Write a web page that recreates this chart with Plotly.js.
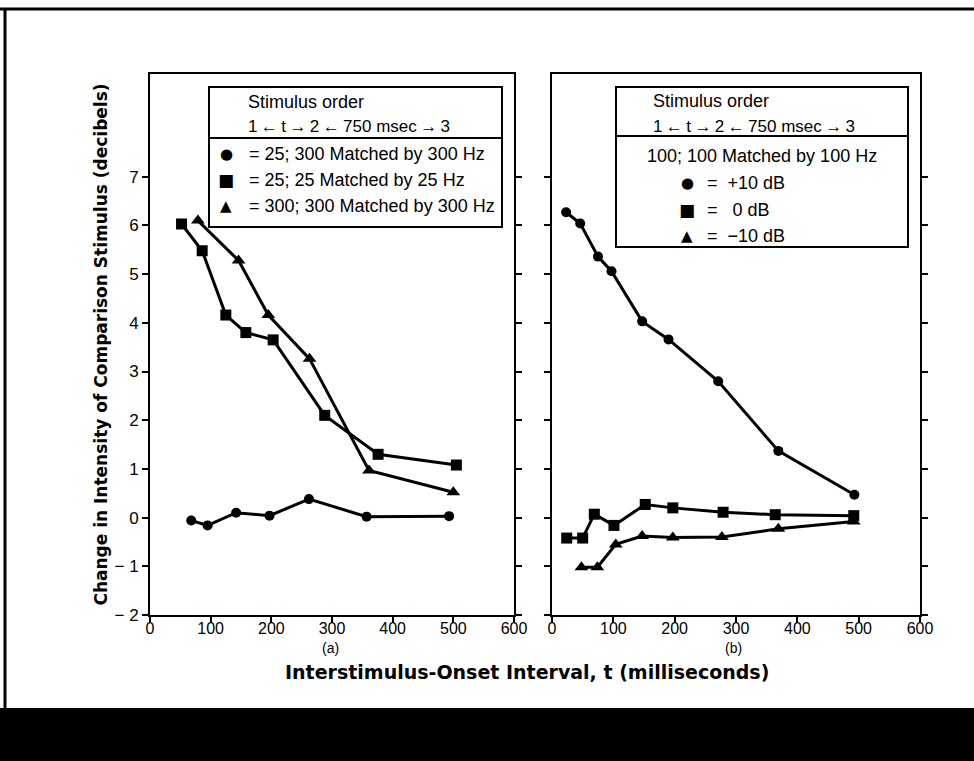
<!DOCTYPE html>
<html>
<head>
<meta charset="utf-8">
<script src="https://cdn.plot.ly/plotly-3.0.1.min.js"></script>
<style>html,body{margin:0;padding:0;background:#fff;}#chart{width:974px;height:761px;}</style>
</head>
<body>
<div id="chart"></div>
<script>
// ---- Data: panel (a) ----
const xA_circle = [68, 95, 142, 197, 262, 357, 493];
const yA_circle = [-0.06, -0.16, 0.1, 0.04, 0.38, 0.02, 0.03];
const xA_square = [52, 86, 125, 158, 203, 288, 376, 505];
const yA_square = [6.03, 5.48, 4.16, 3.8, 3.65, 2.1, 1.3, 1.08];
const xA_triangle = [79, 146, 195, 263, 361, 500];
const yA_triangle = [6.1, 5.28, 4.16, 3.26, 0.97, 0.52];

// ---- Data: panel (b) ----
const xB_circle = [23, 46, 75, 97, 147, 190, 271, 369, 493];
const yB_circle = [6.27, 6.04, 5.36, 5.06, 4.03, 3.66, 2.8, 1.37, 0.47];
const xB_square = [24, 50, 69, 101, 152, 197, 279, 364, 492];
const yB_square = [-0.42, -0.42, 0.07, -0.16, 0.27, 0.2, 0.11, 0.06, 0.04];
const xB_triangle = [48, 74, 104, 147, 197, 277, 369, 492];
const yB_triangle = [-1.02, -1.02, -0.55, -0.38, -0.41, -0.4, -0.23, -0.08];

// ---- Tick labels ----
const xTickVals = [0, 100, 200, 300, 400, 500, 600];
const xTickText = ['0', '100', '200', '300', '400', '500', '600'];
const yTickVals = [-2, -1, 0, 1, 2, 3, 4, 5, 6, 7];
const yTickText = ['\u2212 2', '\u2212 1', '0', '1', '2', '3', '4', '5', '6', '7'];

const legendA = ['= 25; 300 Matched by 300 Hz', '= 25; 25 Matched by 25 Hz', '= 300; 300 Matched by 300 Hz'];
const legendB = ['=  +10 dB', '=   0 dB', '=  \u221210 dB'];

const FONT = 'Liberation Sans, Arial, Helvetica, sans-serif';
const BOLD = 'DejaVu Sans, sans-serif';
const W = 974, H = 761;
const px = v => v / W;
const py = v => 1 - v / H;

function series(x, y, symbol, size, xa, ya) {
  return {
    x: x, y: y, xaxis: xa, yaxis: ya, type: 'scatter', mode: 'lines+markers',
    line: {color: '#000', width: 3},
    marker: {symbol: symbol, size: size, color: '#000'},
    showlegend: false, hoverinfo: 'skip'
  };
}

const traces = [
  series(xA_circle, yA_circle, 'circle', 10, 'x', 'y'),
  series(xA_square, yA_square, 'square', 11, 'x', 'y'),
  series(xA_triangle, yA_triangle, 'triangle-up', 12, 'x', 'y'),
  series(xB_circle, yB_circle, 'circle', 10, 'x2', 'y2'),
  series(xB_square, yB_square, 'square', 11, 'x2', 'y2'),
  series(xB_triangle, yB_triangle, 'triangle-up', 12, 'x2', 'y2')
];

const xCommon = {
  range: [0, 600], tickvals: xTickVals, ticktext: xTickText,
  ticks: 'outside', ticklen: 6, tickwidth: 2, tickcolor: '#000',
  showline: true, linewidth: 2, linecolor: '#000', mirror: true,
  showgrid: false, zeroline: false, ticklabelstandoff: -8,
  tickfont: {family: FONT, size: 16, color: '#000'}
};
const yCommon = {
  range: [-2, 9.11], tickvals: yTickVals, ticktext: yTickText,
  ticks: 'outside', ticklen: 6, tickwidth: 2, tickcolor: '#000',
  showline: true, linewidth: 2, linecolor: '#000', mirror: 'ticks',
  showgrid: false, zeroline: false,
  tickfont: {family: FONT, size: 17, color: '#000'},
  domain: [py(615), py(74)]
};

const txt = (x, y, text, size, extra) => Object.assign({
  xref: 'paper', yref: 'paper', x: px(x), y: py(y), text: text, showarrow: false,
  xanchor: 'left', yanchor: 'middle', font: {family: FONT, size: size || 18, color: '#000'}
}, extra || {});

const glyph = (x, y, ch, size) => ({
  xref: 'paper', yref: 'paper', x: px(x), y: py(y), text: ch, showarrow: false,
  xanchor: 'center', yanchor: 'middle', font: {family: 'DejaVu Sans, sans-serif', size: size, color: '#000'}
});

const ORDER = '1\u2009\u2190\u2009t\u2009\u2192\u20092\u2009\u2190\u2009750 msec\u2009\u2192\u20093';

const annotations = [
  // legend (a)
  txt(246, 102, 'Stimulus order', 18),
  txt(246, 126, ORDER, 17),
  glyph(226, 154, '\u25CF', 15), txt(247, 154, legendA[0], 18),
  glyph(226, 180, '\u25A0', 17), txt(247, 180, legendA[1], 18),
  glyph(226, 206, '\u25B2', 15), txt(247, 206, legendA[2], 18),
  // legend (b)
  txt(651, 101, 'Stimulus order', 18),
  txt(651, 126, ORDER, 17),
  txt(645, 156, '100; 100 Matched by 100 Hz', 18),
  glyph(687, 183, '\u25CF', 15), txt(705, 183, legendB[0], 18),
  glyph(687, 210, '\u25A0', 17), txt(705, 210, legendB[1], 18),
  glyph(687, 236, '\u25B2', 15), txt(705, 236, legendB[2], 18),
  // panel labels
  txt(330, 648, '(a)', 14, {xanchor: 'center', borderpad: 0}),
  txt(733, 648, '(b)', 14, {xanchor: 'center', borderpad: 0}),
  // x title spanning both panels
  txt(527, 672, 'Interstimulus-Onset Interval, t (milliseconds)', 19,
      {xanchor: 'center', borderpad: 0, font: {family: BOLD, size: 19, color: '#000', weight: 'bold'}})
];

const shapes = [
  // legend boxes
  {type: 'rect', xref: 'paper', yref: 'paper', x0: px(209), x1: px(502), y0: py(227), y1: py(87), line: {color: '#000', width: 2}},
  {type: 'line', xref: 'paper', yref: 'paper', x0: px(209), x1: px(502), y0: py(138), y1: py(138), line: {color: '#000', width: 2}},
  {type: 'rect', xref: 'paper', yref: 'paper', x0: px(616), x1: px(908), y0: py(247), y1: py(87), line: {color: '#000', width: 2}},
  {type: 'line', xref: 'paper', yref: 'paper', x0: px(616), x1: px(908), y0: py(136), y1: py(136), line: {color: '#000', width: 2}},
  // outer frame
  {type: 'line', xref: 'paper', yref: 'paper', x0: 0, x1: 1, y0: py(9), y1: py(9), line: {color: '#000', width: 3}},
  {type: 'line', xref: 'paper', yref: 'paper', x0: px(5), x1: px(5), y0: py(9), y1: py(708), line: {color: '#000', width: 3}},
  {type: 'rect', xref: 'paper', yref: 'paper', x0: 0, x1: 1, y0: 0, y1: py(708), fillcolor: '#000', line: {width: 0}}
];

const layout = {
  width: W, height: H,
  margin: {l: 0, r: 0, t: 0, b: 0},
  paper_bgcolor: '#fff', plot_bgcolor: '#fff',
  showlegend: false,
  xaxis: Object.assign({}, xCommon, {domain: [px(150), px(514)], anchor: 'y'}),
  xaxis2: Object.assign({}, xCommon, {domain: [px(552), px(920)], anchor: 'y2'}),
  yaxis: Object.assign({}, yCommon, {anchor: 'x',
    title: {text: 'Change in Intensity of Comparison Stimulus (decibels)', standoff: 3,
            font: {family: BOLD, size: 17, color: '#000', weight: 'bold'}}}),
  yaxis2: Object.assign({}, yCommon, {anchor: 'x2', showticklabels: false}),
  shapes: shapes,
  annotations: annotations
};

Plotly.newPlot('chart', traces, layout, {displayModeBar: false, staticPlot: true});
</script>
</body>
</html>
